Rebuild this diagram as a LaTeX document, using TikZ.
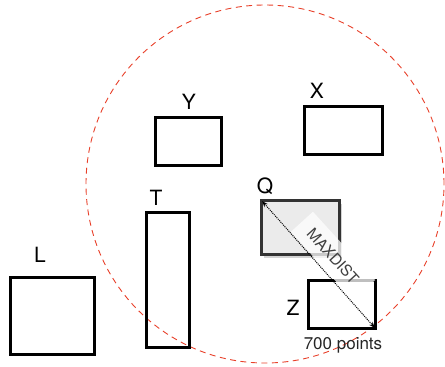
\documentclass[tikz,border=0pt]{standalone}
\usepackage{fontspec}
\setmainfont{TeX Gyre Heros}
\usetikzlibrary{arrows.meta, shadows}
\definecolor{range-red}{HTML}{E8402A}
\definecolor{query-grey}{HTML}{EBEBEB}

\begin{document}
\begin{tikzpicture}[x=1pt, y=-1pt,
      every node/.style={font=\fontsize{21}{23}\selectfont},
      box/.style={draw, line width=2.6pt, minimum width=#1, inner sep=0pt},
      tag/.style={inner sep=0pt}]
    \useasboundingbox (0,0) rectangle (445,367);
    % search radius
    \draw[range-red, line width=0.9pt, dash pattern=on 6pt off 4.5pt]
      (265,184) circle[radius=179pt];
    % objects
    \node[box=66pt, minimum height=48pt] (y) at (188.5,141.5) {};
    \node[box=78pt, minimum height=48pt] (x) at (343.5,130.5) {};
    \node[box=43pt, minimum height=135pt] (t) at (168,280) {};
    \node[box=84pt, minimum height=77pt] (l) at (52.5,316) {};
    \node[box=67pt, minimum height=48pt] (z) at (342,304.5) {};
    \node[box=78pt, minimum height=54pt, draw=black!80, fill=query-grey,
      drop shadow={opacity=0.35, shadow xshift=2pt, shadow yshift=-3pt}]
      (q) at (300.5,227.5) {};
    \node[tag] (ylab) at (189,102) {Y};
    \node[tag] (xlab) at (317,91) {X};
    \node[tag] (qlab) at (265,186) {Q};
    \node[tag] (tlab) at (156,198) {T};
    \node[tag] (llab) at (40,255) {L};
    \node[tag] (zlab) at (293,308) {Z};
    % max distance
    \node[rotate=-47.7, fill=white, fill opacity=0.75, text opacity=1,
      text=black!75, font=\fontsize{15.5}{17}\selectfont,
      inner xsep=12pt, inner ysep=9pt] (maxd) at (333,256) {MAXDIST};
    \draw[{Stealth[length=6pt]}-{Stealth[length=6pt]}, densely dotted, line width=1pt]
      ([shift={(2pt,-2pt)}]q.north west) -- ([shift={(-2pt,2pt)}]z.south east);
    \node[tag, font=\fontsize{17}{19}\selectfont, text=black!85] (pts) at (343,345) {700 points};
  \end{tikzpicture}
\end{document}
